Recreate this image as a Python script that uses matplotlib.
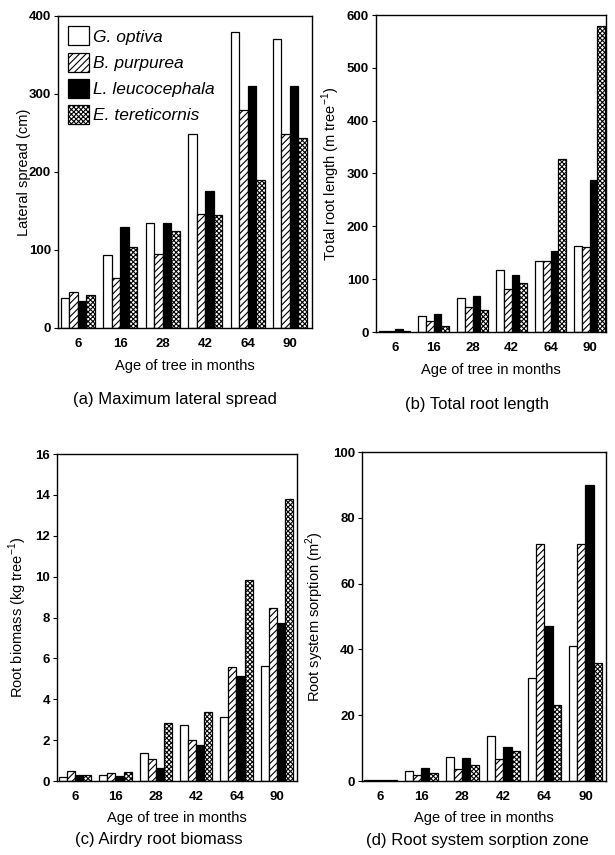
import matplotlib
matplotlib.use("Agg")
import matplotlib.pyplot as plt
import numpy as np
from matplotlib.patches import Patch

plt.rcParams['font.family'] = ['Liberation Sans', 'DejaVu Sans']
plt.rcParams['hatch.linewidth'] = 0.8

ages = ["6", "16", "28", "42", "64", "90"]
species = ["G. optiva", "B. purpurea", "L. leucocephala", "E. tereticornis"]

# (a) Maximum lateral spread (cm)
spread_g = [38, 93, 135, 249, 380, 370]
spread_b = [46, 64, 95, 146, 279, 249]
spread_l = [34, 129, 135, 175, 310, 310]
spread_e = [42, 104, 124, 145, 190, 244]

# (b) Total root length (m tree-1)
length_g = [1, 31, 64, 118, 134, 163]
length_b = [1, 21, 47, 81, 134, 160]
length_l = [5, 35, 68, 107, 153, 287]
length_e = [1, 12, 42, 92, 327, 580]

# (c) Airdry root biomass (kg tree-1)
biomass_g = [0.2, 0.3, 1.38, 2.73, 3.15, 5.65]
biomass_b = [0.5, 0.4, 1.1, 2.0, 5.6, 8.45]
biomass_l = [0.28, 0.25, 0.62, 1.75, 5.15, 7.75]
biomass_e = [0.28, 0.45, 2.85, 3.4, 9.85, 13.8]

# (d) Root system sorption zone (m2)
sorption_g = [0.3, 2.9, 7.3, 13.7, 31.4, 41]
sorption_b = [0.2, 1.8, 3.5, 6.8, 72, 72]
sorption_l = [0.3, 3.8, 6.9, 10.2, 47, 90]
sorption_e = [0.2, 2.3, 4.8, 9.2, 23, 35.8]

styles = [dict(facecolor='white', hatch=None),
          dict(facecolor='white', hatch='/////'),
          dict(facecolor='black', hatch=None),
          dict(facecolor='white', hatch='xxxxxxx')]

fig = plt.figure(figsize=(6.15, 8.55), dpi=100)

panels = [
    dict(rect=[58/615, 1-328/855, 254/615, 312/855], data=[spread_g, spread_b, spread_l, spread_e],
         ylim=(0, 400), yticks=np.arange(0, 401, 100), ylabel="Lateral spread (cm)",
         xlim=(-0.47, 5.52), caption="(a) Maximum lateral spread", ylx=31, xly=366, capy=399, capx=175),
    dict(rect=[376/615, 1-332/855, 230/615, 317/855], data=[length_g, length_b, length_l, length_e],
         ylim=(0, 600), yticks=np.arange(0, 601, 100), ylabel="Total root length (m tree$^{\\mathregular{-1}}$)",
         xlim=(-0.48, 5.42), caption="(b) Total root length", ylx=342, xly=370, capy=405, capx=477),
    dict(rect=[57/615, 1-781/855, 240/615, 327/855], data=[biomass_g, biomass_b, biomass_l, biomass_e],
         ylim=(0, 16), yticks=np.arange(0, 17, 2), ylabel="Root biomass (kg tree$^{\\mathregular{-1}}$)",
         xlim=(-0.45, 5.5), caption="(c) Airdry root biomass", ylx=29, xly=818, capy=839, capx=159),
    dict(rect=[362/615, 1-781/855, 244/615, 329/855], data=[sorption_g, sorption_b, sorption_l, sorption_e],
         ylim=(0, 100), yticks=np.arange(0, 101, 20), ylabel="Root system sorption (m$^{\\mathregular{2}}$)",
         xlim=(-0.44, 5.5), caption="(d) Root system sorption zone", ylx=326, xly=818, capy=840, capx=477),
]

x = np.arange(len(ages))
w = 0.2
for p in panels:
    ax = fig.add_axes(p['rect'])
    for k, vals in enumerate(p['data']):
        st = styles[k]
        ax.bar(x + (k - 1.5) * w, vals, width=w, facecolor=st['facecolor'], hatch=st['hatch'],
               edgecolor='black', linewidth=0.9, label=species[k])
    ax.set_xlim(*p['xlim'])
    ax.set_ylim(*p['ylim'])
    ax.set_yticks(p['yticks'])
    ax.set_yticklabels([str(int(t)) for t in p['yticks']], fontsize=9.5, fontweight='bold')
    ax.set_xticks(x)
    ax.set_xticklabels(ages, fontsize=9.5, fontweight='bold')
    ax.tick_params(axis='x', length=0, pad=7)
    ax.tick_params(axis='y', length=3, width=0.8, direction='out', pad=2)
    for s in ax.spines.values():
        s.set_linewidth(1.0)
    ax.set_ylabel(p['ylabel'], fontsize=10.5)
    ycen = p['rect'][1] + p['rect'][3] / 2
    ax.yaxis.set_label_coords(p['ylx'] / 615, ycen, transform=fig.transFigure)
    fig.text((p['rect'][0] + p['rect'][2] / 2), 1 - p['xly'] / 855, "Age of tree in months",
             ha='center', va='center', fontsize=10.5)
    fig.text(p['capx'] / 615, 1 - p['capy'] / 855, p['caption'], ha='center', va='center', fontsize=12)
    if p is panels[0]:
        handles = [Patch(facecolor=styles[k]['facecolor'], hatch=styles[k]['hatch'], edgecolor='black',
                         linewidth=0.9, label=species[k]) for k in range(4)]
        ax.legend(handles=handles, loc='upper left', frameon=False,
                  handlelength=1.2, handleheight=1.3, handletextpad=0.2, labelspacing=0.42,
                  borderaxespad=0.2, prop=dict(style='italic', size=12.5))

fig.savefig("out.png", dpi=100)
